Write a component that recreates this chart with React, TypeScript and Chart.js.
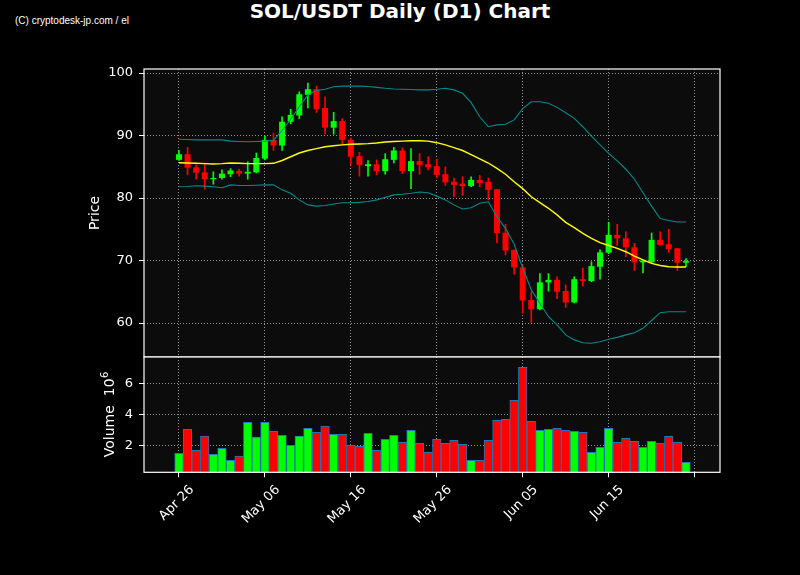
import { useEffect, useRef } from 'react'
import { Chart, registerables } from 'chart.js'
import type { Plugin } from 'chart.js'

Chart.register(...registerables)
Chart.defaults.font.family = "'DejaVu Sans', sans-serif"

// daily candles, day 0 = Apr 26
const opens = [
    86.1, 87.0, 84.9, 84.1, 83.0, 83.2, 83.8, 84.3, 83.9, 84.1,
    86.3, 89.3, 88.4, 92.2, 93.2, 96.5, 97.4, 94.4, 91.25, 92.3,
    89.3, 86.7, 85.1, 85.4, 84.3, 86.1, 87.6, 84.3, 85.9, 85.4,
    85.1, 83.8, 82.6, 82.3, 81.9, 82.9, 82.6, 81.4, 74.45, 71.7,
    68.9, 63.7, 62.2, 66.5, 66.9, 65.1, 63.3, 67.0, 66.7, 69.0,
    71.25, 74.1, 73.55, 72.1, 69.7, 69.7, 73.3, 72.6, 71.95, 69.65,
]
const highs = [
    87.6, 88.1, 85.3, 85.6, 84.2, 84.5, 84.7, 84.6, 85.8, 87.2,
    89.9, 90.4, 93.0, 94.2, 97.0, 98.4, 97.9, 96.2, 93.7, 92.7,
    89.6, 87.3, 86.0, 86.1, 87.1, 88.1, 88.0, 87.9, 87.1, 86.6,
    86.2, 85.0, 83.2, 83.4, 83.4, 83.6, 83.2, 81.4, 75.8, 71.7,
    69.3, 65.0, 67.9, 67.9, 67.4, 66.1, 67.4, 68.8, 69.8, 71.7,
    76.1, 75.8, 74.6, 72.75, 70.1, 74.4, 74.6, 75.0, 71.95, 70.3,
]
const lows = [
    86.0, 83.7, 83.0, 81.4, 82.2, 83.0, 83.4, 83.5, 83.0, 84.0,
    86.1, 87.6, 87.6, 91.9, 92.7, 94.4, 93.7, 90.2, 90.2, 88.6,
    85.3, 83.5, 83.5, 83.7, 83.8, 85.6, 83.9, 81.5, 83.8, 84.5,
    83.2, 82.0, 80.2, 80.4, 81.8, 81.8, 79.7, 72.8, 70.9, 67.8,
    61.6, 60.1, 62.1, 65.1, 63.9, 62.5, 63.2, 65.9, 66.6, 67.0,
    71.1, 72.4, 70.6, 68.4, 68.0, 69.6, 72.4, 71.3, 68.4, 69.0,
]
const closes = [
    87.0, 84.85, 84.05, 83.0, 83.2, 83.9, 84.4, 83.9, 84.2, 86.4,
    89.3, 88.4, 92.2, 93.3, 96.6, 97.4, 94.2, 91.25, 92.3, 89.3,
    86.6, 85.3, 85.4, 84.3, 86.2, 87.6, 84.3, 85.9, 85.3, 84.9,
    83.7, 82.5, 82.1, 81.9, 82.9, 82.4, 81.3, 74.35, 71.6, 68.9,
    63.6, 62.2, 66.5, 66.9, 65.0, 63.3, 67.0, 66.7, 69.1, 71.3,
    74.1, 73.55, 72.1, 69.7, 70.0, 73.3, 72.5, 71.8, 69.65, 69.9,
]
// 20-day SMA and Bollinger bands
const sma = [
    85.65, 85.6, 85.55, 85.5, 85.45, 85.5, 85.6, 85.55, 85.5, 85.5,
    85.5, 85.55, 86.0, 86.6, 87.2, 87.6, 87.9, 88.2, 88.35, 88.5,
    88.6, 88.65, 88.7, 88.8, 88.95, 89.05, 89.1, 89.15, 89.15, 89.1,
    88.85, 88.5, 88.05, 87.6, 86.95, 86.25, 85.6, 84.75, 83.8, 82.6,
    81.5, 80.2, 79.25, 78.35, 77.3, 76.1, 75.25, 74.35, 73.55, 72.85,
    72.4, 71.95, 71.4, 70.7, 70.1, 69.55, 69.2, 69.0, 68.95, 68.95,
]
const upperBand = [
    89.4, 89.35, 89.3, 89.3, 89.3, 89.3, 89.1, 89.05, 89.0, 89.05,
    89.1, 89.25, 90.8, 92.6, 94.6, 96.5, 97.2, 97.4, 97.8, 97.9,
    97.9, 97.9, 97.85, 97.7, 97.55, 97.45, 97.4, 97.35, 97.3, 97.3,
    97.4, 97.55, 97.3, 96.75, 95.25, 93.0, 91.4, 91.7, 91.8, 92.5,
    94.3, 95.4, 95.4, 95.15, 94.5, 93.65, 92.75, 91.4, 89.9, 88.5,
    87.15, 85.95, 84.6, 83.0, 80.85, 78.7, 76.7, 76.4, 76.15, 76.15,
]
const lowerBand = [
    81.8, 81.85, 81.95, 81.9, 81.8, 81.65, 82.1, 82.0, 82.0, 82.05,
    82.1, 82.1, 81.3, 80.75, 79.7, 78.9, 78.7, 78.8, 79.05, 79.25,
    79.25, 79.3, 79.45, 79.7, 80.1, 80.5, 80.6, 80.75, 80.95, 80.85,
    80.3, 79.7, 78.9, 78.25, 78.45, 79.15, 79.4, 77.0, 75.15, 72.6,
    68.8, 65.3, 63.15, 61.0, 59.7, 58.1, 57.3, 56.85, 56.75, 57.0,
    57.4, 57.7, 58.1, 58.45, 59.15, 60.4, 61.65, 61.8, 61.8, 61.8,
]
// volume in millions
const volumes = [
    1.48, 3.03, 1.68, 2.6, 1.42, 1.8, 1.03, 1.31, 3.48, 2.54,
    3.48, 2.9, 2.64, 2.0, 2.6, 3.1, 2.84, 3.25, 2.71, 2.71,
    2.0, 1.93, 2.77, 1.68, 2.38, 2.64, 2.19, 2.97, 2.13, 1.55,
    2.38, 2.13, 2.32, 2.06, 1.03, 1.03, 2.32, 3.61, 3.68, 4.9,
    7.03, 3.55, 2.97, 3.03, 3.1, 2.97, 2.9, 2.84, 1.55, 1.87,
    3.1, 2.19, 2.45, 2.26, 1.87, 2.26, 2.13, 2.58, 2.19, 0.9,
]
const tickDays = [0, 10, 20, 30, 40, 50, 60]
const tickLabels = ['Apr 26', 'May 06', 'May 16', 'May 26', 'Jun 05', 'Jun 15', '']
const priceTicks = [60, 70, 80, 90, 100]
const volumeTicks = [2, 4, 6]

const X_MIN = -4.07
const X_MAX = 62.96
const GRID = 'rgba(170,170,170,0.85)'
const UP = '#00ff00'
const DOWN = '#ff0000'
const TEAL = '#008b8b'

const candleColors = opens.map((o, i) => (closes[i] >= o ? UP : DOWN))

const frame: Plugin = {
    id: 'frame',
    beforeDraw(chart) {
        const { ctx, chartArea: a } = chart
        ctx.save()
        ctx.fillStyle = '#0c0c0c'
        ctx.fillRect(a.left, a.top, a.right - a.left, a.bottom - a.top)
        ctx.restore()
    },
    afterDraw(chart) {
        const { ctx, chartArea: a } = chart
        ctx.save()
        ctx.strokeStyle = '#ffffff'
        ctx.lineWidth = 1.2
        ctx.strokeRect(a.left, a.top, a.right - a.left, a.bottom - a.top)
        ctx.restore()
    },
}

// "Volume  10" with a raised 6, centred on the panel
const volumeTitle: Plugin = {
    id: 'volumeTitle',
    afterDraw(chart) {
        const { ctx, chartArea: a } = chart
        const main = 'Volume  10'
        ctx.save()
        ctx.fillStyle = '#ffffff'
        ctx.textBaseline = 'middle'
        ctx.textAlign = 'left'
        ctx.font = "14px 'DejaVu Sans'"
        const w1 = ctx.measureText(main).width
        ctx.font = "10px 'DejaVu Sans'"
        const w2 = ctx.measureText('6').width
        ctx.translate(110, (a.top + a.bottom) / 2)
        ctx.rotate(-Math.PI / 2)
        const x0 = -(w1 + w2) / 2
        ctx.font = "14px 'DejaVu Sans'"
        ctx.fillText(main, x0, 0)
        ctx.font = "10px 'DejaVu Sans'"
        ctx.fillText('6', x0 + w1 + 0.5, -5)
        ctx.restore()
    },
}

const xTicks = (s: any) => { s.ticks = tickDays.map(v => ({ value: v })) }
// fixed box sizes so both panels share the same plot edges
const fixWidth = (s: any) => { s.width = 144; s.paddingTop = 0; s.paddingBottom = 0 }
const fixHeight = (h: number) => (s: any) => { s.height = h; s.paddingLeft = 0; s.paddingRight = 0 }

export default function App() {
    const priceRef = useRef<HTMLCanvasElement>(null)
    const volRef = useRef<HTMLCanvasElement>(null)

    useEffect(() => {
        if (!priceRef.current || !volRef.current) return

        const line = (label: string, values: number[], color: string, width: number) => ({
            type: 'line' as const,
            label,
            data: values.map((y, i) => ({ x: i, y })),
            borderColor: color,
            borderWidth: width,
            pointRadius: 0,
            tension: 0,
            order: 0,
        })

        const price = new Chart(priceRef.current, {
            type: 'bar',
            data: {
                datasets: [
                    {
                        label: 'wick',
                        data: lows.map((l, i) => ({ x: i, y: [l, highs[i]] })) as any,
                        backgroundColor: candleColors,
                        barThickness: 1,
                        grouped: false,
                        order: 2,
                    },
                    {
                        label: 'body',
                        data: opens.map((o, i) => ({ x: i, y: [o, closes[i]] })) as any,
                        backgroundColor: candleColors,
                        barPercentage: 0.7,
                        categoryPercentage: 1,
                        grouped: false,
                        order: 1,
                    },
                    line('upper', upperBand, TEAL, 1.1) as any,
                    line('lower', lowerBand, TEAL, 1.1) as any,
                    line('sma', sma, '#ffff00', 1.4) as any,
                ],
            },
            options: {
                responsive: false,
                animation: false,
                layout: { padding: { top: 69, right: 80, left: 0, bottom: 1 } },
                plugins: { legend: { display: false }, tooltip: { enabled: false } },
                scales: {
                    x: {
                        type: 'linear',
                        min: X_MIN,
                        max: X_MAX,
                        offset: false,
                        afterBuildTicks: xTicks,
                        afterFit: fixHeight(0),
                        ticks: { display: false },
                        grid: { color: GRID, drawTicks: false, lineWidth: 1, offset: false },
                        border: { display: false, dash: [1, 2] },
                    },
                    y: {
                        min: 54.56,
                        max: 100.64,
                        afterBuildTicks: (s: any) => { s.ticks = priceTicks.map(v => ({ value: v })) },
                        afterFit: fixWidth,
                        ticks: { color: '#ffffff', font: { size: 13 }, padding: 6 },
                        grid: { color: GRID, tickColor: '#ffffff', tickLength: 5, tickWidth: 1 },
                        border: { display: false, dash: [1, 2] },
                        title: {
                            display: true,
                            text: 'Price',
                            color: '#ffffff',
                            font: { size: 14 },
                            padding: { top: 86.6, bottom: 0 },
                        },
                    },
                },
            },
            plugins: [frame],
        })

        const volume = new Chart(volRef.current, {
            type: 'bar',
            data: {
                datasets: [{
                    label: 'volume',
                    data: volumes.map((v, i) => ({ x: i, y: v })) as any,
                    backgroundColor: candleColors,
                    borderColor: '#1f77b4',
                    borderWidth: 1,
                    borderSkipped: false,
                    barPercentage: 1,
                    categoryPercentage: 1,
                }],
            },
            options: {
                responsive: false,
                animation: false,
                layout: { padding: { top: 7, right: 80, left: 0, bottom: 0 } },
                plugins: { legend: { display: false }, tooltip: { enabled: false } },
                scales: {
                    x: {
                        type: 'linear',
                        min: X_MIN,
                        max: X_MAX,
                        offset: false,
                        afterBuildTicks: xTicks,
                        afterFit: fixHeight(102.7),
                        ticks: {
                            color: '#ffffff',
                            font: { size: 13 },
                            autoSkip: false,
                            minRotation: 45,
                            maxRotation: 45,
                            labelOffset: 13,
                            padding: 5,
                            callback: (_v: any, i: number) => tickLabels[i],
                        },
                        grid: { color: GRID, tickColor: '#ffffff', tickLength: 5, tickWidth: 1, offset: false },
                        border: { display: false, dash: [1, 2] },
                    },
                    y: {
                        min: 0.26,
                        max: 7.7,
                        afterBuildTicks: (s: any) => { s.ticks = volumeTicks.map(v => ({ value: v })) },
                        afterFit: fixWidth,
                        ticks: { color: '#ffffff', font: { size: 13 }, padding: 6 },
                        grid: { color: GRID, tickColor: '#ffffff', tickLength: 5, tickWidth: 1 },
                        border: { display: false, dash: [1, 2] },
                    },
                },
            },
            plugins: [frame, volumeTitle],
        })

        return () => {
            price.destroy()
            volume.destroy()
        }
    }, [])

    return (
        <div style={{ position: 'fixed', left: 0, top: 0, width: 800, height: 575, background: '#000', overflow: 'hidden' }}>
            <div style={{
                position: 'absolute', left: 15, top: 16, fontFamily: "'Liberation Sans', sans-serif",
                fontSize: 10, lineHeight: '10px', color: '#ffffff', whiteSpace: 'nowrap',
            }}>
                (C) cryptodesk-jp.com / el
            </div>
            <div style={{
                position: 'absolute', left: 0, top: 1, width: 800, textAlign: 'center',
                fontFamily: "'DejaVu Sans', sans-serif", fontWeight: 'bold', fontSize: 20,
                lineHeight: '20px', color: '#ffffff',
            }}>
                SOL/USDT Daily (D1) Chart
            </div>
            <canvas ref={priceRef} width={800} height={358}
                style={{ position: 'absolute', left: 0, top: 0, width: 800, height: 358 }} />
            <canvas ref={volRef} width={800} height={225}
                style={{ position: 'absolute', left: 0, top: 350, width: 800, height: 225 }} />
        </div>
    )
}
